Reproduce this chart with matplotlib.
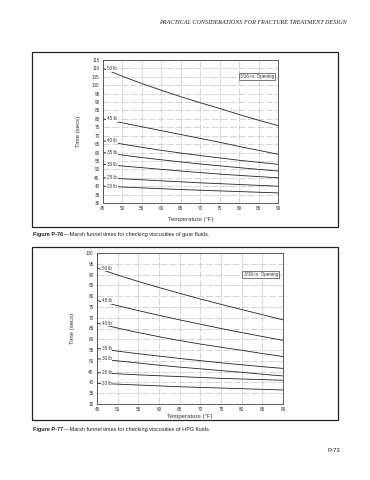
import matplotlib
matplotlib.use("Agg")
import matplotlib.pyplot as plt
from matplotlib.patches import Rectangle

W, H = 370, 480

temps = [45, 50, 55, 60, 65, 70, 75, 80, 85, 90]
weights = ["50 lb", "45 lb", "40 lb", "35 lb", "30 lb", "25 lb", "20 lb"]

# Figure P-76: guar
guar_50 = [110, 105.3, 101, 97, 93.2, 89.6, 86.2, 82.6, 79.2, 76]
guar_45 = [80, 77.6, 75.3, 73, 70.7, 68.4, 66.1, 63.6, 61.3, 59]
guar_40 = [67, 65, 63.1, 61.3, 59.7, 58.2, 56.8, 55.4, 54.2, 53]
guar_35 = [60, 58.5, 57, 55.7, 54.4, 53.2, 52.1, 51, 50, 49]
guar_30 = [53, 52, 51, 50, 49, 48.1, 47.2, 46.4, 45.7, 45]
guar_25 = [45, 44.4, 43.8, 43.2, 42.6, 42, 41.5, 41, 40.5, 40]
guar_20 = [40, 39.5, 39, 38.5, 38, 37.6, 37.2, 36.8, 36.4, 36]

# Figure P-77: HPG
hpg_50 = [93, 89.8, 86.8, 84, 81.3, 78.7, 76.2, 73.8, 71.4, 69]
hpg_45 = [78, 75.6, 73.3, 71.1, 69, 67, 65, 63.1, 61.3, 59.5]
hpg_40 = [67.5, 65.2, 63.1, 61.2, 59.4, 57.8, 56.3, 54.9, 53.4, 52]
hpg_35 = [55.8, 54.5, 53.3, 52.2, 51.1, 50.1, 49.1, 48.2, 47.3, 46.5]
hpg_30 = [51, 50, 49, 48, 47.1, 46.3, 45.5, 44.7, 43.8, 43]
hpg_25 = [44.5, 44, 43.5, 43.1, 42.7, 42.3, 41.9, 41.6, 41.3, 41]
hpg_20 = [39.6, 39.2, 38.8, 38.4, 38, 37.7, 37.4, 37.1, 36.8, 36.5]

guar = [guar_50, guar_45, guar_40, guar_35, guar_30, guar_25, guar_20]
hpg = [hpg_50, hpg_45, hpg_40, hpg_35, hpg_30, hpg_25, hpg_20]

plt.rcParams['font.family'] = ['Liberation Sans', 'DejaVu Sans']

fig = plt.figure(figsize=(W / 100, H / 100), dpi=100)
fig.patch.set_facecolor("white")


def fx(x):
    return x / W


def fy(y):
    return 1 - y / H


def box(x0, y0, x1, y1):
    r = Rectangle((fx(x0), fy(y1)), fx(x1) - fx(x0), fy(y0) - fy(y1),
                  transform=fig.transFigure, fill=False, lw=0.9, ec="#222")
    fig.patches.append(r)


def panel(rect, ymax, series, opening_xy, xpad):
    x0, y0, x1, y1 = rect
    ax = fig.add_axes([fx(x0), fy(y1), fx(x1) - fx(x0), fy(y0) - fy(y1)])
    ax.set_xlim(45, 90)
    ax.set_ylim(30, ymax)
    ax.set_xticks(range(45, 91, 5))
    ax.set_yticks(range(30, ymax + 1, 5))
    ax.tick_params(length=0, labelsize=3.3, pad=2.5, colors="#333")
    ax.grid(True, color="#c4c4c4", lw=0.5, ls=(0, (10, 3)))
    for s in ax.spines.values():
        s.set_color("#444")
        s.set_linewidth(0.6)
    for name, vals in zip(weights, series):
        ax.plot(temps, vals, color="#222", lw=0.6)
        ax.text(47.3, vals[0], name, fontsize=3.3, ha="center", va="center",
                color="#333", bbox=dict(fc="white", ec="none", pad=0.6))
    ax.text(opening_xy[0], opening_xy[1], "3/16-in. Opening", fontsize=3.3,
            ha="center", va="center", color="#333",
            bbox=dict(fc="white", ec="#444", lw=0.5, pad=0.8))
    ax.set_xlabel("Temperature (°F)", fontsize=4.3, labelpad=xpad, color="#333")
    ax.set_ylabel("Time (secs)", fontsize=4.3, labelpad=8, color="#333")
    return ax


def caption(y, num, rest):
    t = fig.text(fx(33), fy(y), num, fontsize=4, ha="left", va="center",
                 color="#222", weight="bold")
    fig.canvas.draw()
    bb = t.get_window_extent()
    fig.text(fx(bb.x1 + 0.5), fy(y), rest, fontsize=4, ha="left", va="center",
             color="#222")


fig.text(fx(347), fy(23), "PRACTICAL CONSIDERATIONS FOR FRACTURE TREATMENT DESIGN",
         fontsize=4.4, ha="right", va="center", style="italic",
         family="Liberation Serif", color="#222")

box(32, 52, 338, 227)
panel((103, 60, 278, 203), 115, guar, (84.6, 105), 4)
caption(234, "Figure P-76", "—Marsh funnel times for checking viscosities of guar fluids.")

box(32, 247, 338, 420)
panel((97, 253, 283, 404), 100, hpg, (84.6, 90), 1)
caption(429, "Figure P-77", "—Marsh funnel times for checking viscosities of HPG fluids.")

fig.text(fx(340), fy(450), "P-73", fontsize=4.3, ha="right", va="center", color="#222")

fig.savefig("out.png", dpi=100)
